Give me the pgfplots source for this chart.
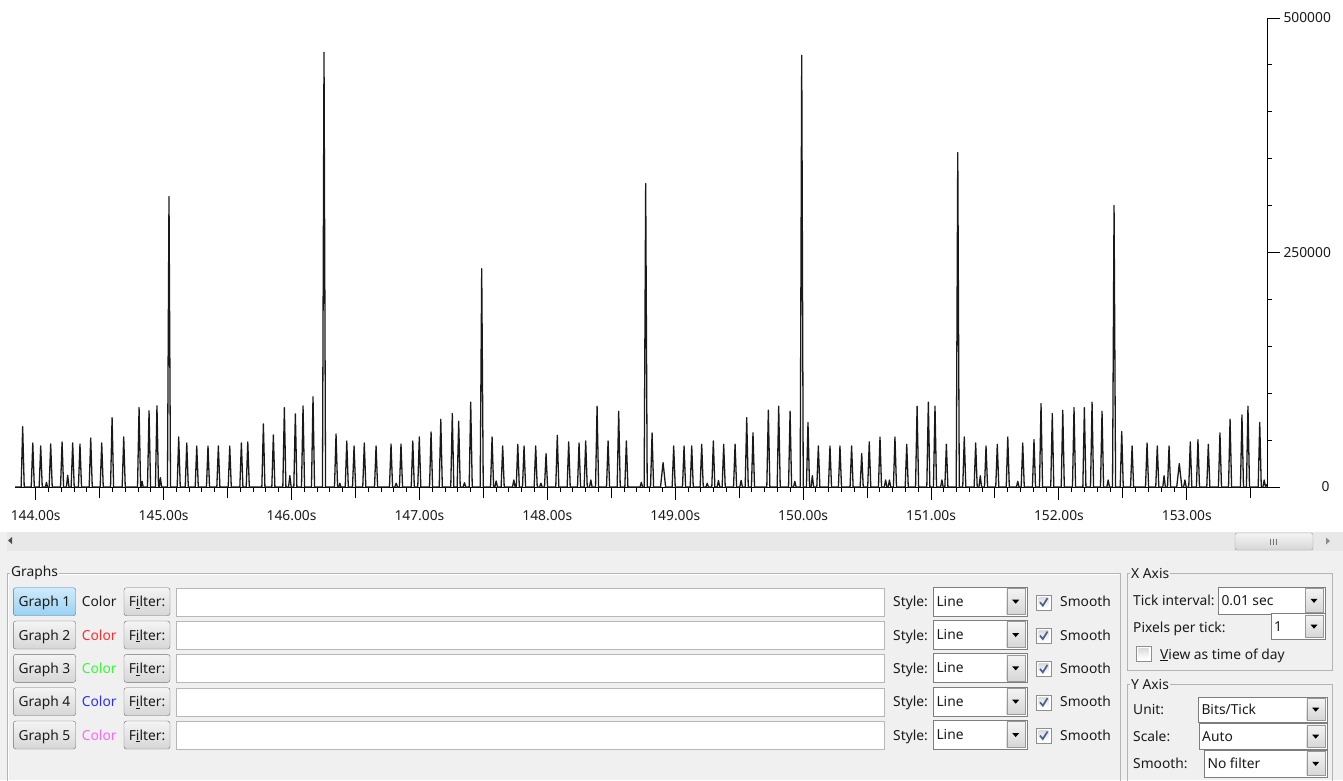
\documentclass[border=0pt]{standalone}
\usepackage{fontspec}
\setmainfont{Noto Sans}
\usepackage{pgfplots}
\pgfplotsset{compat=1.18}

\definecolor{panel}{HTML}{F0F0F0}
\definecolor{scrollbg}{HTML}{E8E8E8}
\definecolor{groupline}{HTML}{B4B4B4}
\definecolor{btnbord}{HTML}{707070}
\definecolor{btntop}{HTML}{F4F4F4}
\definecolor{btnbot}{HTML}{D6D6D6}
\definecolor{selbord}{HTML}{3C7FB1}
\definecolor{seltop}{HTML}{CFEBFB}
\definecolor{selbot}{HTML}{9AD1F1}
\definecolor{fieldbord}{HTML}{B5B7BC}
\definecolor{combobord}{HTML}{7E7E7E}
\definecolor{chkbord}{HTML}{8E8F8F}
\definecolor{chkin}{HTML}{DCDCDC}
\definecolor{chkmark}{HTML}{4A5F97}
\definecolor{cb}{HTML}{1A1A1A}
\definecolor{c2}{HTML}{FF2D2D}
\definecolor{c3}{HTML}{33FF33}
\definecolor{c4}{HTML}{2D2DFF}
\definecolor{c5}{HTML}{FF66FF}

\newcommand\ui{\fontsize{13.8pt}{16pt}\selectfont}

% combo box: x1, y1, x2, y2, text
\newcommand\combo[5]{%
  \draw[combobord, fill=white] (#1,#2) rectangle (#3,#4);
  \shade[top color=btntop, bottom color=btnbot, draw=combobord!80]
    (#3-20,#2+1.5) rectangle (#3-1.5,#4-1.5);
  \fill[black] (#3-14.5,{(#2+#4)/2-1.5}) -- ++(7,0) -- ++(-3.5,4) -- cycle;
  \node[anchor=base west, inner sep=0, text=cb] at (#1+3,{(#2+#4)/2+5}) {#5};
}
% check box: x, y top
\newcommand\chkbox[2]{%
  \draw[chkbord, fill=white] (#1,#2) rectangle ++(15,15);
  \shade[top color=chkin, bottom color=white] (#1+2.5,#2+2.5) rectangle ++(10,10);
}
\newcommand\chkmark[2]{%
  \draw[chkmark, line width=1.7pt] (#1+4,#2+7.5) -- (#1+6.8,#2+11) -- (#1+11.5,#2+3.5);
}

\begin{document}
\begin{tikzpicture}
\useasboundingbox (0pt,0pt) rectangle (1343pt,-780pt);
\clip (0pt,0pt) rectangle (1343pt,-780pt);

\begin{scope}[x=1pt, y=-1pt, font=\ui,
  btn/.style={draw=btnbord, rounded corners=2.5pt, top color=btntop, bottom color=btnbot},
  selbtn/.style={draw=selbord, rounded corners=2.5pt, top color=seltop, bottom color=selbot},
  lbl/.style={anchor=base west, inner sep=0, text=cb},
  grp/.style={anchor=west, inner sep=1pt, fill=panel, text=cb}]

  % plot area, scroll bar, panel
  \fill[white] (0,0) rectangle (1343,532);
  \fill[panel] (0,532) rectangle (1343,780);
  \fill[scrollbg] (7,532) rectangle (1343,551);
  \fill[black!70] (8,540.5) -- (12,537) -- (12,544) -- cycle;
  \fill[black!45] (1330,541) -- (1326,537.5) -- (1326,544.5) -- cycle;
  \shade[top color=btntop, bottom color=btnbot, draw=black!40, rounded corners=2pt]
    (1235,533) rectangle (1313,550);
  \foreach \g in {1270,1273,1276} \draw[black!55] (\g,538.5) -- (\g,544.5);

  % group boxes
  \draw[groupline] (7,790) -- (7,573) -- (1120,573) -- (1120,790);
  \draw[white] (8,790) -- (8,574) -- (1119,574);
  \node[grp] at (10,573) {Graphs};
  \draw[groupline] (1127,573) rectangle (1332,670);
  \node[grp] at (1130,573) {X Axis};
  \draw[groupline] (1127,790) -- (1127,684) -- (1332,684) -- (1332,790);
  \node[grp] at (1130,684) {Y Axis};

  % graph rows
  \foreach \i/\col in {1/cb,2/c2,3/c3,4/c4,5/c5}{
    \pgfmathsetmacro\t{587.7+(\i-1)*33.33}
    \pgfmathsetmacro\b{\t+28}
    \pgfmathsetmacro\m{\t+14}
    \ifnum\i=1
      \path[selbtn] (13.3,\t) rectangle (75.7,\b);
    \else
      \path[btn] (13.3,\t) rectangle (75.7,\b);
    \fi
    \node[anchor=base, inner sep=0, text=cb] at (44.5,\m+5) {Graph \i};
    \node[lbl, text=\col] at (81.7,\m+5) {Color};
    \path[btn] (124,\t) rectangle (170,\b);
    \node[anchor=base, inner sep=0, text=cb] at (147,\m+5) {F\underline{i}lter:};
    \draw[fieldbord, fill=white] (176,\t) rectangle (884,\b);
    \node[lbl] at (893,\m+5) {Style:};
    \combo{933.3}{\t-1}{1026.7}{\b}{Line}
    \chkbox{1036}{\t+7}
    \chkmark{1036}{\t+7}
    \node[lbl] at (1060,\m+5) {Smooth};
  }

  % x axis settings
  \node[lbl] at (1133,605) {Tick interval:};
  \combo{1218.3}{586.7}{1325}{614}{0.01 sec}
  \node[lbl] at (1133,632) {Pixels per tick:};
  \combo{1271}{613.3}{1325}{639}{1}
  \chkbox{1136}{646}
  \node[lbl] at (1160,659) {\underline{V}iew as time of day};

  % y axis settings
  \node[lbl] at (1133,714) {Unit:};
  \combo{1198.3}{696.7}{1326.7}{721.7}{Bits/Tick}
  \node[lbl] at (1133,741) {Scale:};
  \combo{1199}{723.3}{1326.7}{749}{Auto}
  \node[lbl] at (1133,768) {Smooth:};
  \combo{1204.3}{750}{1326.7}{776.7}{No filter}
\end{scope}

\begin{axis}[
  at={(15pt,-487pt)}, anchor=south west,
  scale only axis, width=1252pt, height=469pt,
  xmin=143.838, xmax=153.627, ymin=0, ymax=500000,
  axis x line=bottom, axis y line=right,
  axis line style={-, black, line width=1pt},
  tick style={black, line width=1pt},
  tick align=outside,
  major tick length=13pt, minor tick length=5pt,
  xtick={144,145,146,147,148,149,150,151,152,153},
  xticklabels={144.00s,145.00s,146.00s,147.00s,148.00s,149.00s,150.00s,151.00s,152.00s,153.00s},
  minor x tick num=9,
  extra x ticks={144.5,145.5,146.5,147.5,148.5,149.5,150.5,151.5,152.5,153.5},
  extra x tick labels={},
  extra x tick style={major tick length=11pt},
  ytick={0,250000,500000},
  yticklabels={0,250000,500000},
  minor y tick num=4,
  scaled y ticks=false,
  xticklabel style={font=\ui, text=cb, yshift=-7pt},
  yticklabel style={font=\ui, text=cb, text width=46pt, align=right},
]
\addplot[black!90, line width=1.3pt, line join=round, sharp plot, mark=none] coordinates {
(143.838,0)
(143.886,0)(143.898,64400)(143.910,0)
(143.965,0)(143.977,47000)(143.989,0)
(144.027,0)(144.039,43800)(144.051,0)
(144.076,0)(144.084,5000)(144.092,0)
(144.105,0)(144.117,45900)(144.129,0)
(144.194,0)(144.206,48100)(144.218,0)
(144.240,0)(144.250,12500)(144.260,0)
(144.277,0)(144.289,47000)(144.301,0)
(144.334,0)(144.346,45900)(144.358,0)
(144.418,0)(144.430,52300)(144.442,0)
(144.504,0)(144.516,47000)(144.528,0)
(144.585,0)(144.597,74000)(144.609,0)
(144.676,0)(144.688,53400)(144.700,0)
(144.796,0)(144.808,84700)(144.820,0)
(144.824,0)(144.832,6000)(144.840,0)
(144.874,0)(144.886,81200)(144.898,0)
(144.936,0)(144.948,86500)(144.960,0)
(144.966,0)(144.975,10000)(144.984,0)
(145.030,0)(145.042,309700)(145.054,0)
(145.106,0)(145.118,53400)(145.130,0)
(145.169,0)(145.181,47000)(145.193,0)
(145.247,0)(145.259,43800)(145.271,0)
(145.335,0)(145.347,43800)(145.359,0)
(145.416,0)(145.428,43800)(145.440,0)
(145.505,0)(145.517,43800)(145.529,0)
(145.596,0)(145.608,47000)(145.620,0)
(145.646,0)(145.658,48100)(145.670,0)
(145.768,0)(145.780,67300)(145.792,0)
(145.846,0)(145.858,55500)(145.870,0)
(145.932,0)(145.944,84700)(145.956,0)
(145.977,0)(145.987,12000)(145.997,0)
(146.018,0)(146.030,78000)(146.042,0)
(146.078,0)(146.090,86500)(146.102,0)
(146.156,0)(146.168,96100)(146.180,0)
(146.242,0)(146.254,463500)(146.266,0)
(146.336,0)(146.348,56600)(146.360,0)
(146.370,0)(146.378,4000)(146.386,0)
(146.420,0)(146.432,49100)(146.444,0)
(146.477,0)(146.489,43800)(146.501,0)
(146.557,0)(146.569,47000)(146.581,0)
(146.649,0)(146.661,43800)(146.673,0)
(146.766,0)(146.778,45900)(146.790,0)
(146.808,0)(146.818,4000)(146.828,0)
(146.844,0)(146.856,45900)(146.868,0)
(146.936,0)(146.948,49100)(146.960,0)
(146.987,0)(146.999,53400)(147.011,0)
(147.079,0)(147.091,58700)(147.103,0)
(147.155,0)(147.167,72300)(147.179,0)
(147.245,0)(147.257,78300)(147.269,0)
(147.295,0)(147.307,70200)(147.319,0)
(147.342,0)(147.352,4600)(147.362,0)
(147.389,0)(147.401,90500)(147.413,0)
(147.475,0)(147.487,232800)(147.499,0)
(147.556,0)(147.568,53400)(147.580,0)
(147.590,0)(147.600,6400)(147.610,0)
(147.639,0)(147.651,43800)(147.663,0)
(147.728,0)(147.738,7500)(147.748,0)
(147.757,0)(147.769,45600)(147.781,0)
(147.806,0)(147.818,43800)(147.830,0)
(147.897,0)(147.909,43800)(147.921,0)
(147.940,0)(147.950,4000)(147.960,0)
(147.978,0)(147.990,35600)(148.002,0)
(148.066,0)(148.078,55200)(148.090,0)
(148.155,0)(148.167,48100)(148.179,0)
(148.236,0)(148.248,47000)(148.260,0)
(148.288,0)(148.300,49100)(148.312,0)
(148.330,0)(148.340,7500)(148.350,0)
(148.377,0)(148.389,86200)(148.401,0)
(148.463,0)(148.475,49100)(148.487,0)
(148.546,0)(148.558,80800)(148.570,0)
(148.606,0)(148.618,49100)(148.630,0)
(148.725,0)(148.735,5000)(148.745,0)
(148.757,0)(148.769,323600)(148.781,0)
(148.807,0)(148.819,57700)(148.831,0)
(148.885,0)(148.905,26000)(148.925,0)
(148.976,0)(148.988,43800)(149.000,0)
(149.057,0)(149.069,43800)(149.081,0)
(149.117,0)(149.129,43800)(149.141,0)
(149.195,0)(149.207,45600)(149.219,0)
(149.240,0)(149.250,4000)(149.260,0)
(149.286,0)(149.298,49100)(149.310,0)
(149.328,0)(149.338,7000)(149.348,0)
(149.367,0)(149.379,45600)(149.391,0)
(149.456,0)(149.468,45600)(149.480,0)
(149.505,0)(149.515,7000)(149.525,0)
(149.547,0)(149.559,74000)(149.571,0)
(149.596,0)(149.608,57700)(149.620,0)
(149.716,0)(149.728,81900)(149.740,0)
(149.797,0)(149.809,86200)(149.821,0)
(149.886,0)(149.898,80800)(149.910,0)
(149.925,0)(149.935,6000)(149.945,0)
(149.977,0)(149.989,460300)(150.001,0)
(150.026,0)(150.038,68700)(150.050,0)
(150.062,0)(150.072,12000)(150.082,0)
(150.107,0)(150.119,43800)(150.131,0)
(150.198,0)(150.210,43800)(150.222,0)
(150.276,0)(150.288,43800)(150.300,0)
(150.367,0)(150.379,43800)(150.391,0)
(150.446,0)(150.458,35600)(150.470,0)
(150.505,0)(150.517,48100)(150.529,0)
(150.589,0)(150.601,53400)(150.613,0)
(150.635,0)(150.645,7500)(150.655,0)
(150.665,0)(150.675,7500)(150.685,0)
(150.706,0)(150.718,53400)(150.730,0)
(150.798,0)(150.810,45600)(150.822,0)
(150.879,0)(150.891,86200)(150.903,0)
(150.967,0)(150.979,90500)(150.991,0)
(151.019,0)(151.031,86200)(151.043,0)
(151.075,0)(151.085,7500)(151.095,0)
(151.108,0)(151.120,45600)(151.132,0)
(151.197,0)(151.209,356700)(151.221,0)
(151.248,0)(151.260,53400)(151.272,0)
(151.337,0)(151.349,47000)(151.361,0)
(151.375,0)(151.385,12000)(151.395,0)
(151.418,0)(151.430,43800)(151.442,0)
(151.506,0)(151.518,45600)(151.530,0)
(151.588,0)(151.600,53400)(151.612,0)
(151.668,0)(151.678,6000)(151.688,0)
(151.705,0)(151.717,47000)(151.729,0)
(151.793,0)(151.805,50500)(151.817,0)
(151.848,0)(151.860,89000)(151.872,0)
(151.936,0)(151.948,78300)(151.960,0)
(152.018,0)(152.030,81900)(152.042,0)
(152.106,0)(152.118,84700)(152.130,0)
(152.187,0)(152.199,84700)(152.211,0)
(152.247,0)(152.259,90500)(152.271,0)
(152.325,0)(152.337,80800)(152.349,0)
(152.375,0)(152.385,7500)(152.395,0)
(152.419,0)(152.431,300100)(152.443,0)
(152.479,0)(152.491,59100)(152.503,0)
(152.560,0)(152.572,43800)(152.584,0)
(152.677,0)(152.689,47000)(152.701,0)
(152.757,0)(152.769,43800)(152.781,0)
(152.812,0)(152.822,12000)(152.832,0)
(152.849,0)(152.861,43800)(152.873,0)
(152.921,0)(152.941,24900)(152.961,0)
(152.975,0)(152.985,7500)(152.995,0)
(153.015,0)(153.027,48100)(153.039,0)
(153.075,0)(153.087,50500)(153.099,0)
(153.156,0)(153.168,45600)(153.180,0)
(153.247,0)(153.259,57700)(153.271,0)
(153.326,0)(153.338,72300)(153.350,0)
(153.419,0)(153.431,76900)(153.443,0)
(153.466,0)(153.478,86200)(153.490,0)
(153.558,0)(153.570,68700)(153.582,0)
(153.595,0)(153.605,7500)(153.615,0)(153.627,3000)
};
\end{axis}
\end{tikzpicture}
\end{document}
